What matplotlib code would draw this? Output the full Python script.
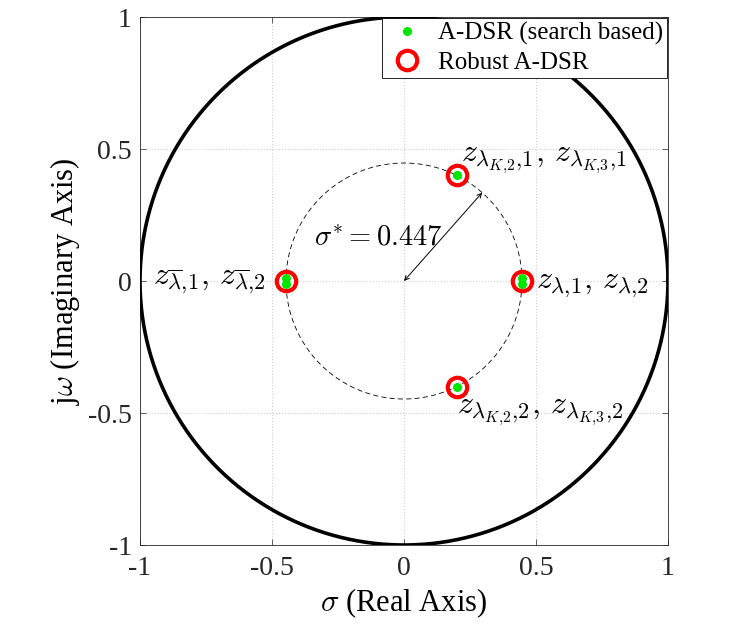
import io
import numpy as np
import matplotlib
matplotlib.use("Agg")
import matplotlib.pyplot as plt
from matplotlib import mathtext

plt.rcParams['font.family'] = ['Liberation Serif', 'DejaVu Serif']
plt.rcParams['mathtext.fontset'] = 'cm'

# poles from search based A-DSR (real, imag)
search_re = [-0.447, -0.447, 0.447, 0.447, 0.2, 0.2]
search_im = [0.013, -0.013, 0.01, -0.01, 0.4, -0.4]

# poles from robust A-DSR
robust_re = [-0.447, 0.447, 0.2, 0.2]
robust_im = [0.0, 0.0, 0.4, -0.4]

sigma_star = 0.447
arrow_angle = 48.5  # degrees

ticks = [-1, -0.5, 0, 0.5, 1]
tick_labels = ['-1', '-0.5', '0', '0.5', '1']


def can_parse(s):
    try:
        mathtext.math_to_image(s, io.BytesIO(), dpi=72, format='png')
        return True
    except Exception:
        return False


ul = r'\underline{\lambda}'
if not can_parse('$' + ul + '$'):
    ul = r'\underset{-}{\lambda}'

fig = plt.figure(figsize=(7.47, 6.37), dpi=100)
ax = fig.add_axes([0.1874, 0.1444, 0.7068, 0.8289])

th = np.linspace(0, 2 * np.pi, 400)
ax.plot(np.cos(th), np.sin(th), '-', color='k', lw=2.6, zorder=4)
ax.plot(sigma_star * np.cos(th), sigma_star * np.sin(th), '--', color='k',
        lw=0.6, dashes=(6, 4), zorder=2)

ax.plot(search_re, search_im, 'o', color='#00e600', ms=6.5, mec='none',
        label='A-DSR (search based)', zorder=5)
ax.plot(robust_re, robust_im, 'o', mfc='none', mec='#ff0000', mew=3, ms=14,
        label='Robust A-DSR', zorder=5)

a = np.deg2rad(arrow_angle)
ax.annotate('', xy=(sigma_star * np.cos(a), sigma_star * np.sin(a)), xytext=(0, 0),
            arrowprops=dict(arrowstyle='<->', color='k', lw=0.7,
                            shrinkA=0, shrinkB=0, mutation_scale=8), zorder=3)
ax.text(-0.34, 0.155, r'$\sigma^{*}=0.447$', fontsize=20.5, va='center', ha='left')

fs = 23
ax.text(0.215, 0.46, r'$z_{\lambda_{K{,}2}{,}1},\, z_{\lambda_{K{,}3}{,}1}$', fontsize=fs,
        va='center', ha='left')
ax.text(0.2, -0.495, r'$z_{\lambda_{K{,}2}{,}2},\, z_{\lambda_{K{,}3}{,}2}$', fontsize=fs,
        va='center', ha='left')
ax.text(0.5, 0.0, r'$z_{%s{,}1},\, z_{%s{,}2}$' % (ul, ul), fontsize=fs,
        va='center', ha='left')
ax.text(-0.525, 0.0, r'$z_{\overline{\lambda}{,}1},\, z_{\overline{\lambda}{,}2}$', fontsize=fs,
        va='center', ha='right')

ax.set_xlim(-1, 1)
ax.set_ylim(-1, 1)
ax.set_xticks(ticks)
ax.set_xticklabels(tick_labels)
ax.set_yticks(ticks)
ax.set_yticklabels(tick_labels)
ax.tick_params(direction='in', labelsize=20, length=4, width=0.5, top=True, right=True,
               colors='#262626')
ax.tick_params(axis='x', pad=8)
ax.tick_params(axis='y', pad=6)
ax.grid(True, linestyle=':', color='#d0d0d0', lw=0.8)
ax.set_axisbelow(True)
for s in ax.spines.values():
    s.set_linewidth(0.6)
    s.set_color('#262626')

ax.set_xlabel(r'$\sigma$ (Real Axis)', fontsize=22, labelpad=4)
ax.set_ylabel(r'j$\omega$ (Imaginary Axis)', fontsize=22, labelpad=4)

leg = ax.legend(loc='upper right', fontsize=18, fancybox=False, framealpha=1,
                edgecolor='k', borderaxespad=0.05, handletextpad=0.4,
                borderpad=0.15, labelspacing=0.25, handlelength=1.7)
leg.get_frame().set_linewidth(0.6)
leg.set_zorder(10)

fig.savefig('out.png', dpi=100)
